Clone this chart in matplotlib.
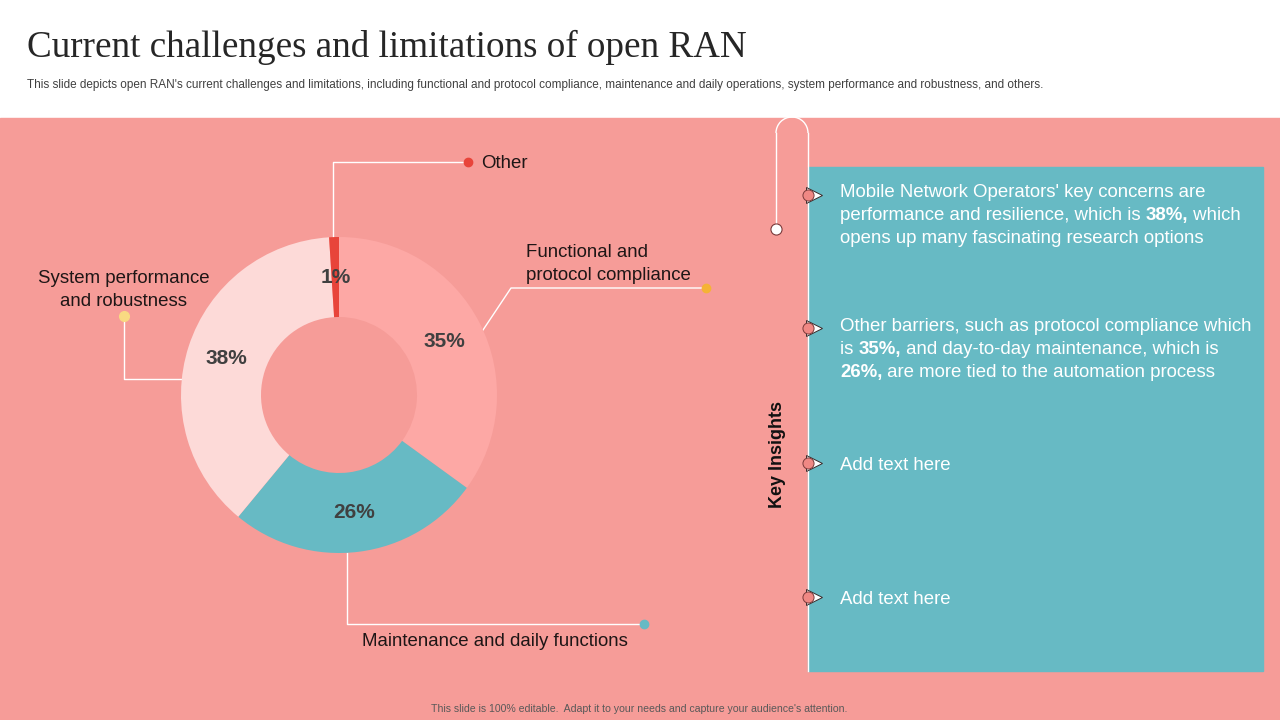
import matplotlib.pyplot as plt
from matplotlib.patches import Rectangle, Arc

# donut data (clockwise from top)
categories = ["Functional and\nprotocol compliance", "Maintenance and daily functions",
              "System performance\nand robustness", "Other"]
shares = [35, 26, 38, 1]
wedge_colors = ["#FDA8A5", "#67BAC4", "#FDDAD8", "#E8443A"]

title = "Current challenges and limitations of open RAN"
subtitle = ("This slide depicts open RAN's current challenges and limitations, including functional and "
            "protocol compliance, maintenance and daily operations, system performance and robustness, and others.")
footer = "This slide is 100% editable.  Adapt it to your needs and capture your audience's attention."

# insight lines: list of (text, bold) segments per line
insight1 = [[("Mobile Network Operators' key concerns are", False)],
            [("performance and resilience, which is ", False), ("38%,", True), (" which", False)],
            [("opens up many fascinating research options", False)]]
insight2 = [[("Other barriers, such as protocol compliance which", False)],
            [("is ", False), ("35%,", True), (" and day-to-day maintenance, which is", False)],
            [("26%,", True), (" are more tied to the automation process", False)]]
insight3 = [[("Add text here", False)]]
insight4 = [[("Add text here", False)]]

bg = "#F69C98"
font = "Liberation Sans"

fig = plt.figure(figsize=(12.8, 7.2), dpi=100)
ax = fig.add_axes([0, 0, 1, 1])
ax.set_xlim(0, 1280)
ax.set_ylim(720, 0)
ax.axis("off")

# backgrounds
ax.add_patch(Rectangle((0, 118), 1280, 602, color=bg, zorder=0))
ax.add_patch(Rectangle((808, 167), 455, 504, color="#67BAC4", zorder=1))

# title block
ax.text(27, 47, title, fontsize=26.7, family="Liberation Serif", color="#262626", va="center")
ax.text(27, 85, subtitle, fontsize=8.5, family=font, color="#404040", va="center")
ax.text(639, 709, footer, fontsize=7.6, family=font, color="#595959", ha="center", va="center")

# donut
cx, cy, r = 339, 395, 158
pax = fig.add_axes([(cx - r) / 1280, (720 - cy - r) / 720, 2 * r / 1280, 2 * r / 720])
pax.pie(shares, colors=wedge_colors, startangle=90, counterclock=False,
        wedgeprops=dict(width=80 / 158, linewidth=0),
        autopct="%d%%", pctdistance=0.747,
        textprops=dict(fontsize=15, fontweight="bold", color="#404040", family=font))
pax.set_xlim(-1, 1)
pax.set_ylim(-1, 1)
pax.axis("off")

# leader lines
lw = 1.0
lab = dict(fontsize=13.4, family=font, color="#1E1616", va="center", linespacing=1.45)
ax.plot([333, 333, 468], [237, 162, 162], color="white", lw=lw, zorder=3)
ax.plot(468, 162, "o", color="#E8443A", ms=6, zorder=4)
ax.text(481, 164, categories[3], **lab)

ax.plot([483, 511, 706], [330, 288, 288], color="white", lw=lw, zorder=3)
ax.plot(706, 288, "o", color="#F5B335", ms=6, zorder=4)
ax.text(526, 264, categories[0], **lab)

ax.plot([181, 124, 124], [379, 379, 316], color="white", lw=lw, zorder=3)
ax.plot(124, 316, "o", color="#F9DA82", ms=7, zorder=4)
ax.text(124, 290, categories[2], ha="center", multialignment="center", **lab)

ax.plot([347, 347, 644], [553, 624, 624], color="white", lw=lw, zorder=3)
ax.plot(644, 624, "o", color="#67BAC4", ms=6, zorder=4)
ax.text(495, 642, categories[1], ha="center", **lab)

# timeline loop
ax.plot([776, 776], [229, 133], color="white", lw=lw, zorder=3)
ax.add_patch(Arc((792, 133), 32, 32, theta1=180, theta2=360, color="white", lw=lw, zorder=3))
ax.plot([808, 808], [133, 671], color="white", lw=lw, zorder=3)
ax.plot(776, 229, "o", mfc="white", mec="#7A3A3A", mew=0.8, ms=8, zorder=4)

ax.text(777, 455, "Key Insights", rotation=90, fontsize=13, fontweight="bold",
        family=font, color="#111111", ha="center", va="center")

# insight blocks
renderer = fig.canvas.get_renderer()
inv = ax.transData.inverted()

def draw_block(lines, y0):
    for i, segs in enumerate(lines):
        y = y0 + i * 23 + 7
        x = 840
        for txt, bold in segs:
            t = ax.text(x, y, txt, va="baseline", fontsize=13.4, family=font, color="white",
                        fontweight="bold" if bold else "normal", zorder=5)
            bb = t.get_window_extent(renderer)
            x0 = inv.transform((bb.x0, bb.y0))[0]
            x1 = inv.transform((bb.x1, bb.y0))[0]
            x += x1 - x0

for block, y0, ym in [(insight1, 190, 195), (insight2, 324, 328),
                      (insight3, 463, 463), (insight4, 597, 597)]:
    draw_block(block, y0)
    ax.plot(814, ym, ">", mfc="white", mec="#3A2A2A", mew=0.7, ms=11, zorder=5)
    ax.plot(808, ym, "o", mfc="#F08884", mec="#7A3A3A", mew=0.7, ms=8, zorder=6)

fig.savefig("out.png", dpi=100)
